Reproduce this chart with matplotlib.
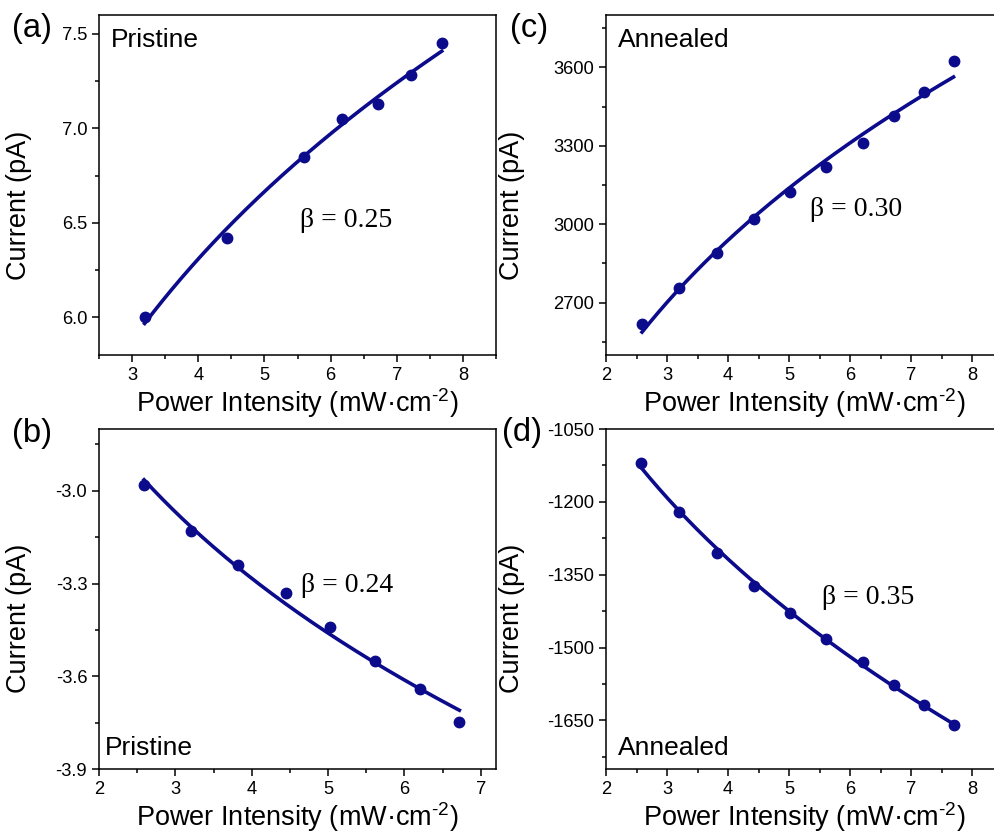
import numpy as np
import matplotlib.pyplot as plt
from matplotlib.ticker import MultipleLocator

# (a) Pristine, positive current
x_a = [3.19, 4.43, 5.60, 6.18, 6.71, 7.21, 7.68]
y_a = [6.00, 6.42, 6.85, 7.05, 7.13, 7.28, 7.45]
beta_a = 0.25

# (b) Pristine, negative current
x_b = [2.59, 3.20, 3.82, 4.45, 5.02, 5.62, 6.20, 6.72]
y_b = [-2.982, -3.131, -3.240, -3.331, -3.440, -3.550, -3.641, -3.749]
beta_b = 0.24

# (c) Annealed, positive current
x_c = [2.59, 3.20, 3.81, 4.43, 5.01, 5.61, 6.20, 6.72, 7.20, 7.69]
y_c = [2618, 2758, 2891, 3021, 3123, 3218, 3309, 3413, 3506, 3623]
beta_c = 0.30

# (d) Annealed, negative current
x_d = [2.58, 3.20, 3.81, 4.43, 5.01, 5.61, 6.20, 6.72, 7.20, 7.69]
y_d = [-1120, -1220, -1306, -1373, -1428, -1483, -1529, -1578, -1618, -1660]
beta_d = 0.35

navy = '#0b0b8c'
plt.rcParams['font.family'] = ['Liberation Sans', 'DejaVu Sans']
plt.rcParams['axes.unicode_minus'] = False
plt.rcParams['mathtext.fontset'] = 'custom'
plt.rcParams['mathtext.rm'] = 'Liberation Sans'

fig = plt.figure(figsize=(9.94, 8.35), dpi=100)


def fit_curve(x, y, beta):
    # y = A + B * x**beta, fitted to the points with beta fixed
    x = np.asarray(x, float)
    M = np.column_stack([np.ones_like(x), x ** beta])
    coef = np.linalg.lstsq(M, np.asarray(y, float), rcond=None)[0]
    xs = np.linspace(x.min(), x.max(), 200)
    return xs, coef[0] + coef[1] * xs ** beta


def panel(rect, x, y, beta, xlim, ylim, major, minor, xmajor, tag, tagpos,
          sample, samplepos, betapos, fmt):
    ax = fig.add_axes(rect)
    xs, ys = fit_curve(x, y, beta)
    ax.plot(xs, ys, color=navy, lw=2.6, zorder=2)
    ax.plot(x, y, 'o', color=navy, ms=7.5, zorder=3)
    ax.set_xlim(*xlim)
    ax.set_ylim(*ylim)
    ax.xaxis.set_major_locator(MultipleLocator(xmajor))
    ax.xaxis.set_minor_locator(MultipleLocator(xmajor / 2))
    ax.yaxis.set_major_locator(MultipleLocator(major))
    ax.yaxis.set_minor_locator(MultipleLocator(minor))
    ax.yaxis.set_major_formatter(fmt)
    ax.tick_params(which='both', direction='out', top=False, right=False,
                   labelsize=13.2, width=1.1)
    ax.tick_params(which='major', length=5)
    ax.tick_params(which='minor', length=3)
    for s in ax.spines.values():
        s.set_linewidth(1.1)
    ax.set_xlabel(r'Power Intensity (mW·cm$^{\text{-2}}$)', fontsize=19.5, labelpad=2)
    ax.set_ylabel('Current (pA)', fontsize=19.5)
    ax.text(betapos[0], betapos[1], '\u03b2 = %.2f' % beta, family='Liberation Serif',
            fontsize=20, va='center', ha='left')
    ax.text(samplepos[0], samplepos[1], sample, transform=ax.transAxes,
            fontsize=19, va='baseline', ha='left')
    fig.text(tagpos[0], tagpos[1], tag, fontsize=23.5, ha='left', va='center')
    return ax


W = 397 / 994
H = 340 / 835
L1 = 99 / 994
L2 = 606 / 994
B1 = 1 - 355 / 835
B2 = 1 - 769 / 835

ax_a = panel([L1, B1, W, H], x_a, y_a, beta_a, (2.5, 8.5), (5.8, 7.6), 0.5, 0.25, 1,
             '(a)', (12 / 994, 1 - 28 / 835), 'Pristine', (0.03, 0.905), (5.54, 6.51),
             '{x:.1f}')
ax_a.yaxis.set_label_coords(-0.17, 0.44)

ax_b = panel([L1, B2, W, H], x_b, y_b, beta_b, (2, 7.2), (-3.9, -2.8), 0.3, 0.15, 1,
             '(b)', (12 / 994, 1 - 433 / 835), 'Pristine', (0.015, 0.04), (4.64, -3.307),
             '{x:.1f}')
ax_b.yaxis.set_label_coords(-0.17, 0.444)

ax_c = panel([L2, B1, W, H], x_c, y_c, beta_c, (2, 8.5), (2500, 3800), 300, 150, 1,
             '(c)', (510 / 994, 1 - 28 / 835), 'Annealed', (0.03, 0.905), (5.34, 3057),
             '{x:.0f}')
ax_c.yaxis.set_label_coords(-0.203, 0.44)

ax_d = panel([L2, B2, W, H], x_d, y_d, beta_d, (2, 8.5), (-1750, -1050), 150, 75, 1,
             '(d)', (502 / 994, 1 - 432 / 835), 'Annealed', (0.03, 0.04), (5.53, -1396),
             '{x:.0f}')
ax_d.yaxis.set_label_coords(-0.203, 0.444)

fig.savefig('out.png', dpi=100)
